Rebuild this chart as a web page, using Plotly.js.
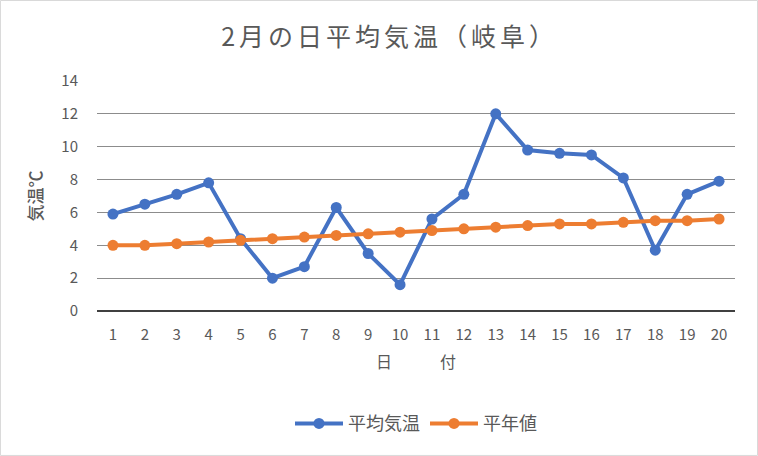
<!DOCTYPE html>
<html><head><meta charset="utf-8">
<script src="https://cdn.plot.ly/plotly-3.0.1.min.js"></script>
<style>html,body{margin:0;padding:0;background:#fff;}#chart{width:758px;height:456px;}
.gtitle{letter-spacing:4px;}</style>
</head><body><div id="chart"></div>
<script>
const days = ["1","2","3","4","5","6","7","8","9","10","11","12","13","14","15","16","17","18","19","20"];
const avgTemp = [5.9,6.5,7.1,7.8,4.4,2.0,2.7,6.3,3.5,1.6,5.6,7.1,12.0,9.8,9.6,9.5,8.1,3.7,7.1,7.9];
const normalTemp = [4.0,4.0,4.1,4.2,4.3,4.4,4.5,4.6,4.7,4.8,4.9,5.0,5.1,5.2,5.3,5.3,5.4,5.5,5.5,5.6];
const yTicks = [0,2,4,6,8,10,12,14];
const font = "'Noto Sans CJK JP', 'Noto Sans', sans-serif";

const traces = [
  {x: days, y: avgTemp, name: "平均気温", type: "scatter", mode: "lines+markers",
   line: {color: "#4472C4", width: 4}, marker: {color: "#4472C4", size: 11}},
  {x: days, y: normalTemp, name: "平年値", type: "scatter", mode: "lines+markers",
   line: {color: "#ED7D31", width: 4}, marker: {color: "#ED7D31", size: 11}}
];
const layout = {
  width: 758, height: 456,
  margin: {l: 97, r: 23, t: 81, b: 145},
  paper_bgcolor: "#fff", plot_bgcolor: "#fff",
  font: {family: font, color: "#595959", size: 15},
  title: {text: "2月の日平均気温（岐阜）", x: 0.514, xanchor: "center", y: 0.919, yanchor: "middle",
          font: {family: font, size: 25, color: "#595959"}},
  xaxis: {type: "category", range: [-0.5, 19.5], showgrid: false, showline: false, zeroline: false,
          ticks: "", ticklabelstandoff: 13, tickfont: {size: 15, color: "#595959"},
          title: {text: "日　　　付", font: {size: 16, color: "#595959"}, standoff: 13}},
  yaxis: {range: [0, 14], tickvals: yTicks, showgrid: true, gridcolor: "#8c8c8c", gridwidth: 1,
          zeroline: true, zerolinecolor: "#404040", zerolinewidth: 1.5, showline: false, ticks: "",
          ticklabelstandoff: 18, tickfont: {size: 15, color: "#595959"},
          title: {text: "気温℃", font: {size: 17, color: "#595959", weight: 500}, standoff: 14}},
  legend: {orientation: "h", x: 0.5, xanchor: "center", y: -0.49, yanchor: "middle",
           font: {size: 18, color: "#595959"}, itemwidth: 48},
  shapes: [{type: "rect", xref: "paper", yref: "paper", x0: -0.1513, x1: 1.0353, y0: -0.628, y1: 1.35,
            line: {color: "#d9d9d9", width: 1}}]
};
Plotly.newPlot("chart", traces, layout, {displayModeBar: false});
</script></body></html>
